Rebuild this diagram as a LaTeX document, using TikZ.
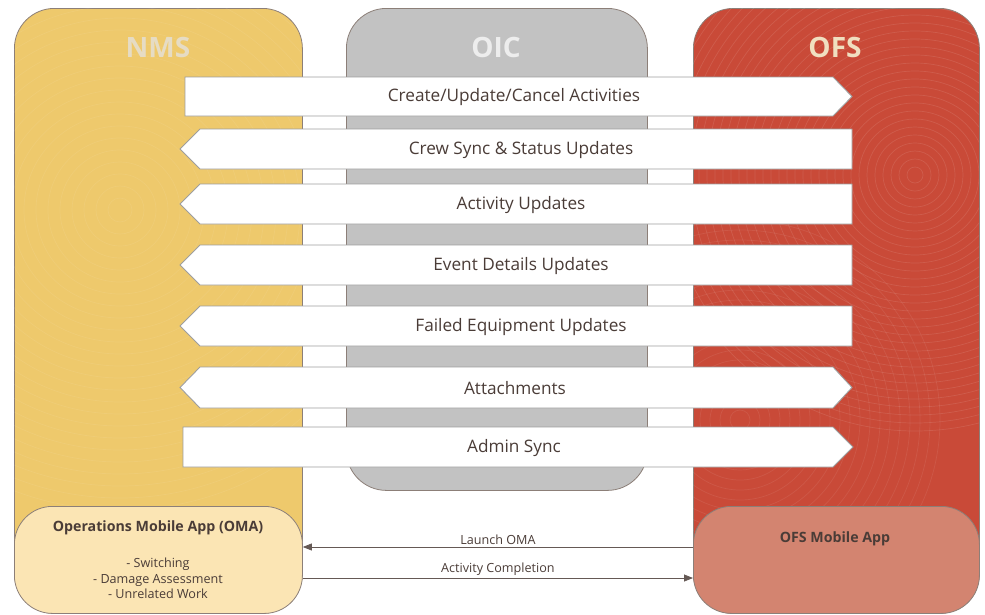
\documentclass[tikz,border=0pt]{standalone}
\usepackage{fontspec}
\setmainfont{Open Sans}
\usetikzlibrary{positioning,arrows.meta,calc}

\definecolor{nmsyellow}{HTML}{EEC96C}
\definecolor{oicgray}{HTML}{C2C2C2}
\definecolor{ofsred}{HTML}{C94A38}
\definecolor{omafill}{HTML}{FBE5B4}
\definecolor{ofsappfill}{HTML}{D38470}
\definecolor{inkbrown}{HTML}{4A3C37}
\definecolor{frameline}{HTML}{8C7F78}
\definecolor{nmshead}{HTML}{E6DCC4}
\definecolor{oichead}{HTML}{EDEDED}
\definecolor{ofshead}{HTML}{F0DFC0}

\tikzset{
  panel/.style={draw=frameline, line width=0.8pt, rounded corners=40pt, anchor=north west},
  appbox/.style={draw=frameline, line width=0.8pt, rounded corners=38pt, anchor=north west,
    minimum width=288, minimum height=107},
  band/.style={draw=black!38, fill=white, line width=0.9pt},
  bandtext/.style={font=\fontsize{17.2}{20}\selectfont, text=inkbrown},
  header/.style={font=\fontsize{28}{32}\selectfont\bfseries},
  small/.style={font=\fontsize{12.6}{15.5}\selectfont, text=inkbrown},
  apptitle/.style={small, font=\fontsize{14.2}{16}\selectfont\bfseries},
  flow/.style={draw=inkbrown!85, line width=0.8pt, -{Triangle[length=9pt,width=7pt]}},
  texture/.style={draw=white, line width=0.7pt},
}

\begin{document}
\begin{tikzpicture}[x=1pt,y=-1pt]
    \useasboundingbox (0,0) rectangle (985,614);

    % Spalten
    \node[panel, fill=nmsyellow, minimum width=288, minimum height=605] (nms) at (14,8) {};
    \node[panel, fill=oicgray, minimum width=301, minimum height=482] (oic) at (346,8) {};
    \node[panel, fill=ofsred, minimum width=286, minimum height=605] (ofs) at (693,8) {};

    % Struktur
    \begin{scope}
      \clip[rounded corners=40] (14,8) rectangle (302,613);
      \foreach \r in {12,24,...,300} {
        \draw[texture, opacity=0.07] (120,210) circle (\r);
      }
    \end{scope}
    \begin{scope}
      \clip[rounded corners=40] (693,8) rectangle (979,613);
      \foreach \r in {8,16,...,260} {
        \draw[texture, opacity=0.10] (915,175) circle (\r);
      }
      \foreach \r in {10,20,...,200} {
        \draw[texture, opacity=0.08] (740,420) circle (\r);
      }
    \end{scope}

    \node[header, text=nmshead] (nmslbl) at (158,47) {NMS};
    \node[header, text=oichead] (oiclbl) at (496,47) {OIC};
    \node[header, text=ofshead] (ofslbl) at (835,47) {OFS};

    % Nachrichten
    \draw[band] (185,77) -- (833,77) -- (852,96.5) -- (833,116) -- (185,116) -- cycle;
    \node[bandtext] (crt) at (514,97.5) {Create/Update/Cancel Activities};

    \foreach \t/\n/\txt in {129/crew/{Crew Sync \& Status Updates},
                          184/actupd/{Activity Updates},
                          245/event/{Event Details Updates},
                          306/failed/{Failed Equipment Updates}} {
      \draw[band] (200,\t) -- (852,\t) -- (852,\t+40) -- (200,\t+40) -- (180,\t+20) -- cycle;
      \node[bandtext] (\n) at (521,\t+21) {\txt};
    }

    \draw[band] (200,367) -- (833,367) -- (852,387.5) -- (833,408) -- (200,408) -- (180,387.5) -- cycle;
    \node[bandtext] (attach) at (515,388.5) {Attachments};

    \draw[band] (183,427) -- (833,427) -- (853,447) -- (833,467) -- (183,467) -- cycle;
    \node[bandtext] (admin) at (514,448) {Admin Sync};

    % Mobile Apps
    \node[appbox, fill=omafill] (oma) at (14,506) {};
    \node[appbox, fill=ofsappfill, minimum width=286] (ofsapp) at (693,506) {};

    \node[apptitle] (omatitle) at (158,528) {Operations Mobile App (OMA)};
    \node[small, align=center] (omalist) at (158,578.5) {- Switching\\- Damage Assessment\\- Unrelated Work};
    \node[apptitle] (ofsapptitle) at (835,539) {OFS Mobile App};

    \coordinate (launch) at (0,547);
    \coordinate (complete) at (0,578);
    \draw[flow] (ofsapp.west |- launch) -- (oma.east |- launch)
      node[small, midway, above, inner sep=2pt] {Launch OMA};
    \draw[flow] (oma.east |- complete) -- (ofsapp.west |- complete)
      node[small, midway, above, inner sep=2pt] {Activity Completion};

  \end{tikzpicture}
\end{document}
